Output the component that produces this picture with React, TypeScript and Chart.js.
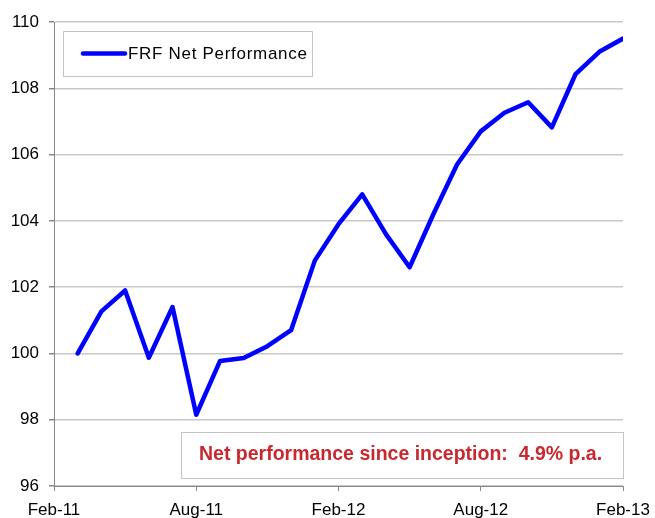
import React, { useEffect, useRef } from "react";
import { Chart, registerables } from "chart.js";

Chart.register(...registerables);

const monthLabels = [
  "Feb-11", "Mar-11", "Apr-11", "May-11", "Jun-11", "Jul-11", "Aug-11", "Sep-11", "Oct-11", "Nov-11", "Dec-11", "Jan-12",
  "Feb-12", "Mar-12", "Apr-12", "May-12", "Jun-12", "Jul-12", "Aug-12", "Sep-12", "Oct-12", "Nov-12", "Dec-12", "Jan-13", "Feb-13",
];
const netPerformance: (number | null)[] = [
  null, 100.0, 101.27, 101.9, 99.87, 101.4, 98.15, 99.77, 99.86, 100.22, 100.7, 102.8,
  103.9, 104.8, 103.6, 102.6, 104.2, 105.7, 106.7, 107.26, 107.58, 106.82, 108.43, 109.1, 109.5,
];
const xTickIndices = [0, 6, 12, 18, 24];
const yTicks = [96, 98, 100, 102, 104, 106, 108, 110];
const seriesName = "FRF Net Performance";
const annotationText = "Net performance since inception:  4.9% p.a.";

const FONT = "'Liberation Sans', Arial, sans-serif";

const boxesPlugin = {
  id: "boxes",
  afterDraw(chart: any) {
    const ctx = chart.ctx;
    const area = chart.chartArea;
    ctx.save();
    // legend box
    const lx = area.left + 9, ly = area.top + 9, lw = 249, lh = 45;
    ctx.fillStyle = "#fff";
    ctx.fillRect(lx, ly, lw, lh);
    ctx.strokeStyle = "#c4c4c4";
    ctx.lineWidth = 1;
    ctx.strokeRect(lx + 0.5, ly + 0.5, lw, lh);
    ctx.strokeStyle = "#0000ff";
    ctx.lineWidth = 4.5;
    ctx.lineCap = "round";
    ctx.beginPath();
    ctx.moveTo(lx + 20, ly + 22.5);
    ctx.lineTo(lx + 62, ly + 22.5);
    ctx.stroke();
    ctx.fillStyle = "#000";
    ctx.font = `17px ${FONT}`;
    try { (ctx as any).letterSpacing = "0.7px"; } catch (e) {}
    ctx.textBaseline = "middle";
    ctx.textAlign = "left";
    ctx.fillText(seriesName, lx + 65, ly + 23);
    try { (ctx as any).letterSpacing = "0px"; } catch (e) {}
    // annotation box
    const ax = 181, ay = 432, aw = area.right - 181, ah = 46;
    ctx.fillStyle = "#fff";
    ctx.fillRect(ax, ay, aw, ah);
    ctx.strokeStyle = "#c4c4c4";
    ctx.lineWidth = 1;
    ctx.strokeRect(ax + 0.5, ay + 0.5, aw, ah);
    ctx.fillStyle = "#c8282e";
    ctx.font = `bold 19.5px ${FONT}`;
    ctx.fillText(annotationText, ax + 18, ay + 23);
    ctx.restore();
  },
};

export default function App() {
  const ref = useRef<HTMLCanvasElement | null>(null);
  useEffect(() => {
    if (!ref.current) return;
    const data = netPerformance
      .map((v, i) => ({ x: i, y: v }))
      .filter((p) => p.y !== null);
    const chart = new Chart(ref.current, {
      type: "line",
      data: {
        datasets: [
          {
            label: seriesName,
            data: data as any,
            borderColor: "#0000ff",
            borderWidth: 4.5,
            pointRadius: 0,
            tension: 0,
            borderJoinStyle: "round",
            borderCapStyle: "round",
          },
        ],
      },
      options: {
        animation: false,
        responsive: false,
        maintainAspectRatio: false,
        layout: { padding: { left: 0, right: 32, top: 22, bottom: 0 } },
        plugins: { legend: { display: false }, tooltip: { enabled: false } },
        scales: {
          x: {
            type: "linear",
            min: 0,
            max: monthLabels.length - 1,
            afterBuildTicks: (scale: any) => {
              scale.ticks = xTickIndices.map((v) => ({ value: v }));
            },
            afterFit: (scale: any) => {
              scale.height = 32;
              scale.paddingLeft = 0;
              scale.paddingRight = 0;
            },
            ticks: {
              autoSkip: false,
              maxRotation: 0,
              color: "#000",
              font: { family: FONT, size: 17 },
              padding: 9,
              callback: (v: any) => monthLabels[Number(v)] ?? "",
            },
            grid: { drawOnChartArea: false, drawTicks: true, tickLength: 5, color: "#888" },
            border: { color: "#888", width: 1 },
          },
          y: {
            min: 96,
            max: 110,
            afterBuildTicks: (scale: any) => {
              scale.ticks = yTicks.map((v) => ({ value: v }));
            },
            afterFit: (scale: any) => {
              scale.width = 54;
              scale.paddingTop = 0;
              scale.paddingBottom = 0;
            },
            ticks: {
              color: "#000",
              font: { family: FONT, size: 17 },
              padding: 10,
            },
            grid: { color: "#c8c8c8", lineWidth: 1.5, tickLength: 5, tickColor: "#888" },
            border: { color: "#888", width: 1 },
          },
        },
      },
      plugins: [boxesPlugin],
    });
    return () => chart.destroy();
  }, []);
  return (
    <div style={{ position: "fixed", left: 0, top: 0, width: 655, height: 518, background: "#fff" }}>
      <canvas ref={ref} width={655} height={518} style={{ width: 655, height: 518 }} />
    </div>
  );
}
